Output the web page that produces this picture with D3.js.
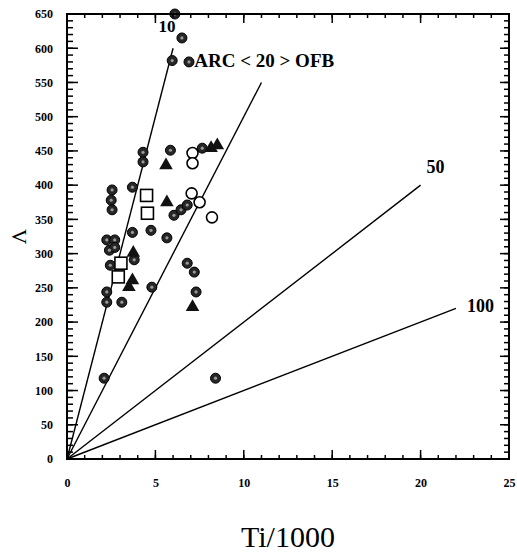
<!DOCTYPE html>
<html>
<head>
<meta charset="utf-8">
<script src="https://cdn.jsdelivr.net/npm/d3@7"></script>
<style>
  body { margin: 0; background: #fff; }
  text { font-family: "Liberation Serif", "DejaVu Serif", serif; }
</style>
</head>
<body>
<div id="container"></div>
<script>
/* CONSTANTS AND GLOBALS */
const width = 517,
  height = 556,
  margin = { top: 14, right: 8, bottom: 97, left: 67 };

/* DATA : Ti/1000 vs V (ppm) */
const xTicks = [0, 5, 10, 15, 20, 25];
const yTicks = d3.range(0, 651, 50);
const xMinorTicks = d3.range(0, 26, 1);
const yMinorTicks = d3.range(0, 651, 10);

// filled (stippled) circles
const filledCircles = [
  [6.1, 650], [6.5, 615], [5.95, 582], [6.9, 580],
  [4.3, 448], [4.3, 434], [5.85, 451], [7.65, 454],
  [3.7, 397], [2.55, 393], [2.5, 378], [2.55, 364],
  [6.05, 356], [6.45, 364], [6.8, 371],
  [3.7, 331], [4.75, 334], [5.65, 323],
  [2.25, 320], [2.7, 320], [2.4, 305], [2.7, 309],
  [2.45, 283], [3.8, 291], [6.8, 286], [7.2, 273], [7.3, 244],
  [2.25, 244], [2.25, 229], [3.1, 229], [4.8, 251],
  [2.1, 118], [8.4, 118]
];
// open circles
const openCircles = [
  [7.1, 447], [7.1, 432], [7.05, 388], [7.5, 375], [8.2, 353]
];
// open squares
const openSquares = [
  [4.5, 385], [4.55, 359], [3.05, 286], [2.9, 266]
];
// filled triangles
const filledTriangles = [
  [5.6, 429], [8.15, 454], [8.5, 458], [5.65, 375],
  [3.75, 301], [3.7, 261], [3.5, 251], [7.1, 222]
];

// Ti/V reference lines: ratio and the Ti/1000 where each line stops
const ratioLabels = ["10", "50", "100"];
const ratios = [10, 20, 50, 100];
const ratioEnds = [6, 11, 20, 22];

const svg = d3.select("#container")
  .append("svg")
  .attr("width", width)
  .attr("height", height);

/* SCALES */
const x = d3.scaleLinear()
  .domain([0, 25])
  .range([margin.left, width - margin.right]);

const y = d3.scaleLinear()
  .domain([0, 650])
  .range([height - margin.bottom, margin.top]);

const plotLeft = margin.left, plotRight = width - margin.right;
const plotBottom = height - margin.bottom, plotTop = margin.top;

/* TICK LABELS via d3 axes */
function styleLabels(g) {
  g.select(".domain").remove();
  g.selectAll(".tick line").remove();
  g.selectAll(".tick text")
    .style("font-family", "'Liberation Serif', serif")
    .style("font-size", "12px")
    .style("font-weight", "bold");
}
svg.append("g")
  .attr("transform", `translate(0,${plotBottom})`)
  .call(d3.axisBottom(x).tickValues(xTicks).tickSize(0).tickPadding(19))
  .call(styleLabels);
svg.append("g")
  .attr("transform", `translate(${plotLeft},0)`)
  .call(d3.axisLeft(y).tickValues(yTicks).tickSize(0).tickPadding(14))
  .call(styleLabels);

/* RATIO LINES  V = 1000 * Ti / ratio */
svg.selectAll("line.ratio")
  .data(ratios)
  .join("line")
  .attr("class", "ratio")
  .attr("x1", x(0)).attr("y1", y(0))
  .attr("x2", (d, i) => x(ratioEnds[i]))
  .attr("y2", (d, i) => y(1000 * ratioEnds[i] / d))
  .attr("stroke", "#000")
  .attr("stroke-width", 1.4);

// labels for 10, 50, 100 lines
const labelFor = [0, 2, 3];
const labelOffset = [[-6, -16, "middle", 17], [6, -12, "start", 18], [11, 4, "start", 18]];
svg.selectAll("text.ratio-label")
  .data(ratioLabels)
  .join("text")
  .attr("class", "ratio-label")
  .attr("x", (d, i) => x(ratioEnds[labelFor[i]]) + labelOffset[i][0])
  .attr("y", (d, i) => y(1000 * ratioEnds[labelFor[i]] / ratios[labelFor[i]]) + labelOffset[i][1])
  .attr("text-anchor", (d, i) => labelOffset[i][2])
  .style("font-size", (d, i) => labelOffset[i][3] + "px")
  .style("font-weight", "bold")
  .text(d => d);

svg.append("text")
  .attr("x", x(7.2))
  .attr("y", y(572))
  .style("font-size", "19px")
  .style("font-weight", "bold")
  .text("ARC < 20 > OFB");

/* POINTS */
svg.selectAll("circle.filled")
  .data(filledCircles)
  .join("circle")
  .attr("class", "filled")
  .attr("cx", d => x(d[0]))
  .attr("cy", d => y(d[1]))
  .attr("r", 5)
  .attr("fill", "#262626")
  .attr("stroke", "#000")
  .attr("stroke-width", 1);

svg.selectAll("circle.filled-dot")
  .data(filledCircles)
  .join("circle")
  .attr("class", "filled-dot")
  .attr("cx", d => x(d[0]))
  .attr("cy", d => y(d[1]))
  .attr("r", 1.6)
  .attr("fill", "#999");

svg.selectAll("circle.open")
  .data(openCircles)
  .join("circle")
  .attr("class", "open")
  .attr("cx", d => x(d[0]))
  .attr("cy", d => y(d[1]))
  .attr("r", 5.5)
  .attr("fill", "#fff")
  .attr("stroke", "#000")
  .attr("stroke-width", 1.6);

svg.selectAll("rect.square")
  .data(openSquares)
  .join("rect")
  .attr("class", "square")
  .attr("x", d => x(d[0]) - 6)
  .attr("y", d => y(d[1]) - 6)
  .attr("width", 12)
  .attr("height", 12)
  .attr("fill", "#fff")
  .attr("stroke", "#000")
  .attr("stroke-width", 1.6);

svg.selectAll("path.triangle")
  .data(filledTriangles)
  .join("path")
  .attr("class", "triangle")
  .attr("d", d3.symbol(d3.symbolTriangle, 80))
  .attr("transform", d => `translate(${x(d[0])},${y(d[1])})`)
  .attr("fill", "#111");

/* AXIS TITLES */
svg.append("text")
  .attr("x", (plotLeft + plotRight) / 2)
  .attr("y", 547)
  .attr("text-anchor", "middle")
  .style("font-size", "30px")
  .text("Ti/1000");

svg.append("text")
  .attr("transform", `translate(12,${(plotBottom + plotTop) / 2}) rotate(90)`)
  .attr("text-anchor", "middle")
  .style("font-size", "21px")
  .text("V");

/* FRAME + TICK MARKS (inward), drawn last, slightly heavier */
svg.append("rect")
  .attr("x", plotLeft).attr("y", plotTop)
  .attr("width", plotRight - plotLeft)
  .attr("height", plotBottom - plotTop)
  .attr("fill", "none")
  .attr("stroke", "#000")
  .attr("stroke-width", 2);

function xTickLines(cls, values, yBase, len) {
  svg.selectAll("line." + cls)
    .data(values)
    .join("line")
    .attr("class", cls)
    .attr("x1", d => x(d)).attr("x2", d => x(d))
    .attr("y1", yBase).attr("y2", yBase + len)
    .attr("stroke", "#000")
    .attr("stroke-width", 1.5);
}
function yTickLines(cls, values, xBase, len) {
  svg.selectAll("line." + cls)
    .data(values)
    .join("line")
    .attr("class", cls)
    .attr("y1", d => y(d)).attr("y2", d => y(d))
    .attr("x1", xBase).attr("x2", xBase + len)
    .attr("stroke", "#000")
    .attr("stroke-width", 1.5);
}
xTickLines("tb-minor", xMinorTicks, plotBottom, -4);
xTickLines("tb-major", xTicks, plotBottom, -9);
xTickLines("tt-minor", xMinorTicks, plotTop, 4);
xTickLines("tt-major", xTicks, plotTop, 9);
yTickLines("tl-minor", yMinorTicks, plotLeft, 6);
yTickLines("tl-major", yTicks, plotLeft, 11);
yTickLines("tr-minor", yMinorTicks, plotRight, -5);
yTickLines("tr-major", yTicks, plotRight, -9);
</script>
</body>
</html>
